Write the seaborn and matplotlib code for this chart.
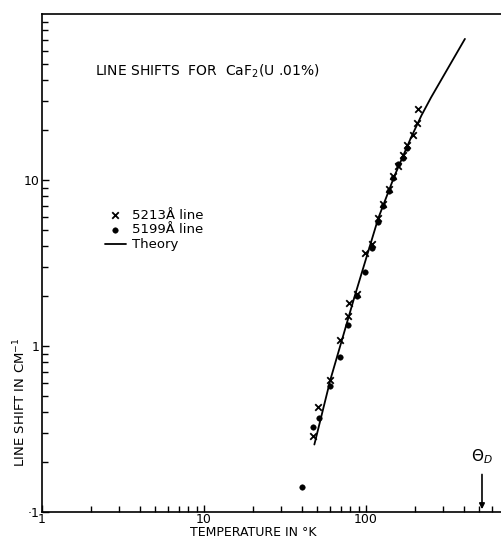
import numpy as np
import pandas as pd
import matplotlib
matplotlib.use("Agg")
import matplotlib.pyplot as plt
import seaborn as sns

# ---- data ----
t_5213 = [47.1, 50.6, 60.0, 69.1, 77.1, 78.5, 88.4, 98.6, 108.4, 118.0, 128.0,
          139.0, 147.0, 158.0, 168.0, 178.0, 194.0, 206.0, 210.0]
s_5213 = [0.285, 0.427, 0.62, 1.09, 1.51, 1.82, 2.07, 3.61, 4.09, 5.9, 7.2,
          8.8, 10.5, 12.2, 14.2, 16.3, 18.7, 22.1, 26.7]

t_5199 = [40.0, 47.0, 51.3, 60.0, 69.1, 77.1, 88.4, 98.6, 108.4, 118.0, 128.0,
          139.0, 147.0, 158.0, 168.0, 178.0]
s_5199 = [0.142, 0.323, 0.366, 0.573, 0.857, 1.33, 1.99, 2.81, 3.9, 5.56, 7.0,
          8.6, 10.3, 12.5, 13.6, 15.6]

t_theory = [48.0, 60.4, 84.3, 119.1, 150.0, 189.6, 220.0, 252.0, 320.0, 408.0]
s_theory = [0.255, 0.631, 1.93, 5.89, 10.6, 18.0, 24.5, 31.4, 47.0, 70.8]

theta_d = 520.0

x_ticks = [1, 10, 100]
x_tick_labels = ["1", "10", "100"]
y_ticks = [0.1, 1, 10]
y_tick_labels = ["·1", "1", "10"]

df_x = pd.DataFrame({"T": t_5213, "shift": s_5213})
df_d = pd.DataFrame({"T": t_5199, "shift": s_5199})
df_t = pd.DataFrame({"T": t_theory, "shift": s_theory})

sns.set_style("ticks")
plt.rcParams["font.family"] = ["DejaVu Sans"]
plt.rcParams["text.color"] = "black"
plt.rcParams["axes.labelcolor"] = "black"
plt.rcParams["xtick.color"] = "black"
plt.rcParams["ytick.color"] = "black"

fig = plt.figure(figsize=(5.02, 5.40), dpi=100)
ax = fig.add_axes([42/502, 28/540, 460/502, 498/540])

sns.lineplot(data=df_t, x="T", y="shift", ax=ax, color="black", lw=1.3,
             label="Theory", sort=True, estimator=None)
sns.scatterplot(data=df_x, x="T", y="shift", ax=ax, marker="x", color="black",
                s=22, linewidth=1.3, label="5213Å line", zorder=3)
sns.scatterplot(data=df_d, x="T", y="shift", ax=ax, marker="o", color="black",
                s=16, edgecolor="black", label="5199Å line", zorder=3)

ax.set_xscale("log")
ax.set_yscale("log")
ax.set_xlim(1, 10 ** (460 / 162))
ax.set_ylim(0.1, 100)

ax.set_xticks(x_ticks)
ax.set_xticklabels(x_tick_labels)
ax.set_yticks(y_ticks)
ax.set_yticklabels(y_tick_labels)
ax.tick_params(which="both", direction="in", color="black", width=1.0,
               labelsize=9, labelcolor="black")
ax.tick_params(axis="x", which="both", pad=1.0)
ax.tick_params(axis="y", which="both", pad=2)
ax.tick_params(which="major", length=5)
ax.tick_params(which="minor", length=4)
ax.tick_params(axis="x", which="both", top=False)
ax.tick_params(axis="y", which="both", right=False)

for side in ["left", "bottom", "top"]:
    ax.spines[side].set_visible(True)
    ax.spines[side].set_color("black")
    ax.spines[side].set_linewidth(1.2)
ax.spines["right"].set_visible(False)

ax.set_xlabel("TEMPERATURE IN °K", fontsize=9, color="black")
ax.set_ylabel("LINE SHIFT IN CM$^{-1}$", fontsize=9.5, color="black")
ax.xaxis.set_label_coords(0.459, -0.029)
ax.yaxis.set_label_coords(-0.03, 0.22)

ax.text(0.115, 0.885, "LINE SHIFTS  FOR  CaF$_2$(U .01%)", transform=ax.transAxes,
        fontsize=10, ha="left", va="center", color="black")

handles, labels = ax.get_legend_handles_labels()
order = [labels.index("5213Å line"), labels.index("5199Å line"), labels.index("Theory")]
leg = ax.legend([handles[i] for i in order], [labels[i] for i in order],
                frameon=False, loc="upper left", bbox_to_anchor=(0.125, 0.62),
                fontsize=9.5, handlelength=1.6, handletextpad=0.5,
                labelspacing=0.15, borderaxespad=0)
for txt in leg.get_texts():
    txt.set_color("black")

ax.annotate("", xy=(theta_d, 0.1), xytext=(theta_d, 0.175),
            arrowprops=dict(arrowstyle="-|>", color="black", lw=1.2,
                            mutation_scale=8))
ax.text(theta_d, 0.215, "$\\Theta_D$", fontsize=11, ha="center", va="center",
        color="black")

fig.savefig("out.png", dpi=100)
